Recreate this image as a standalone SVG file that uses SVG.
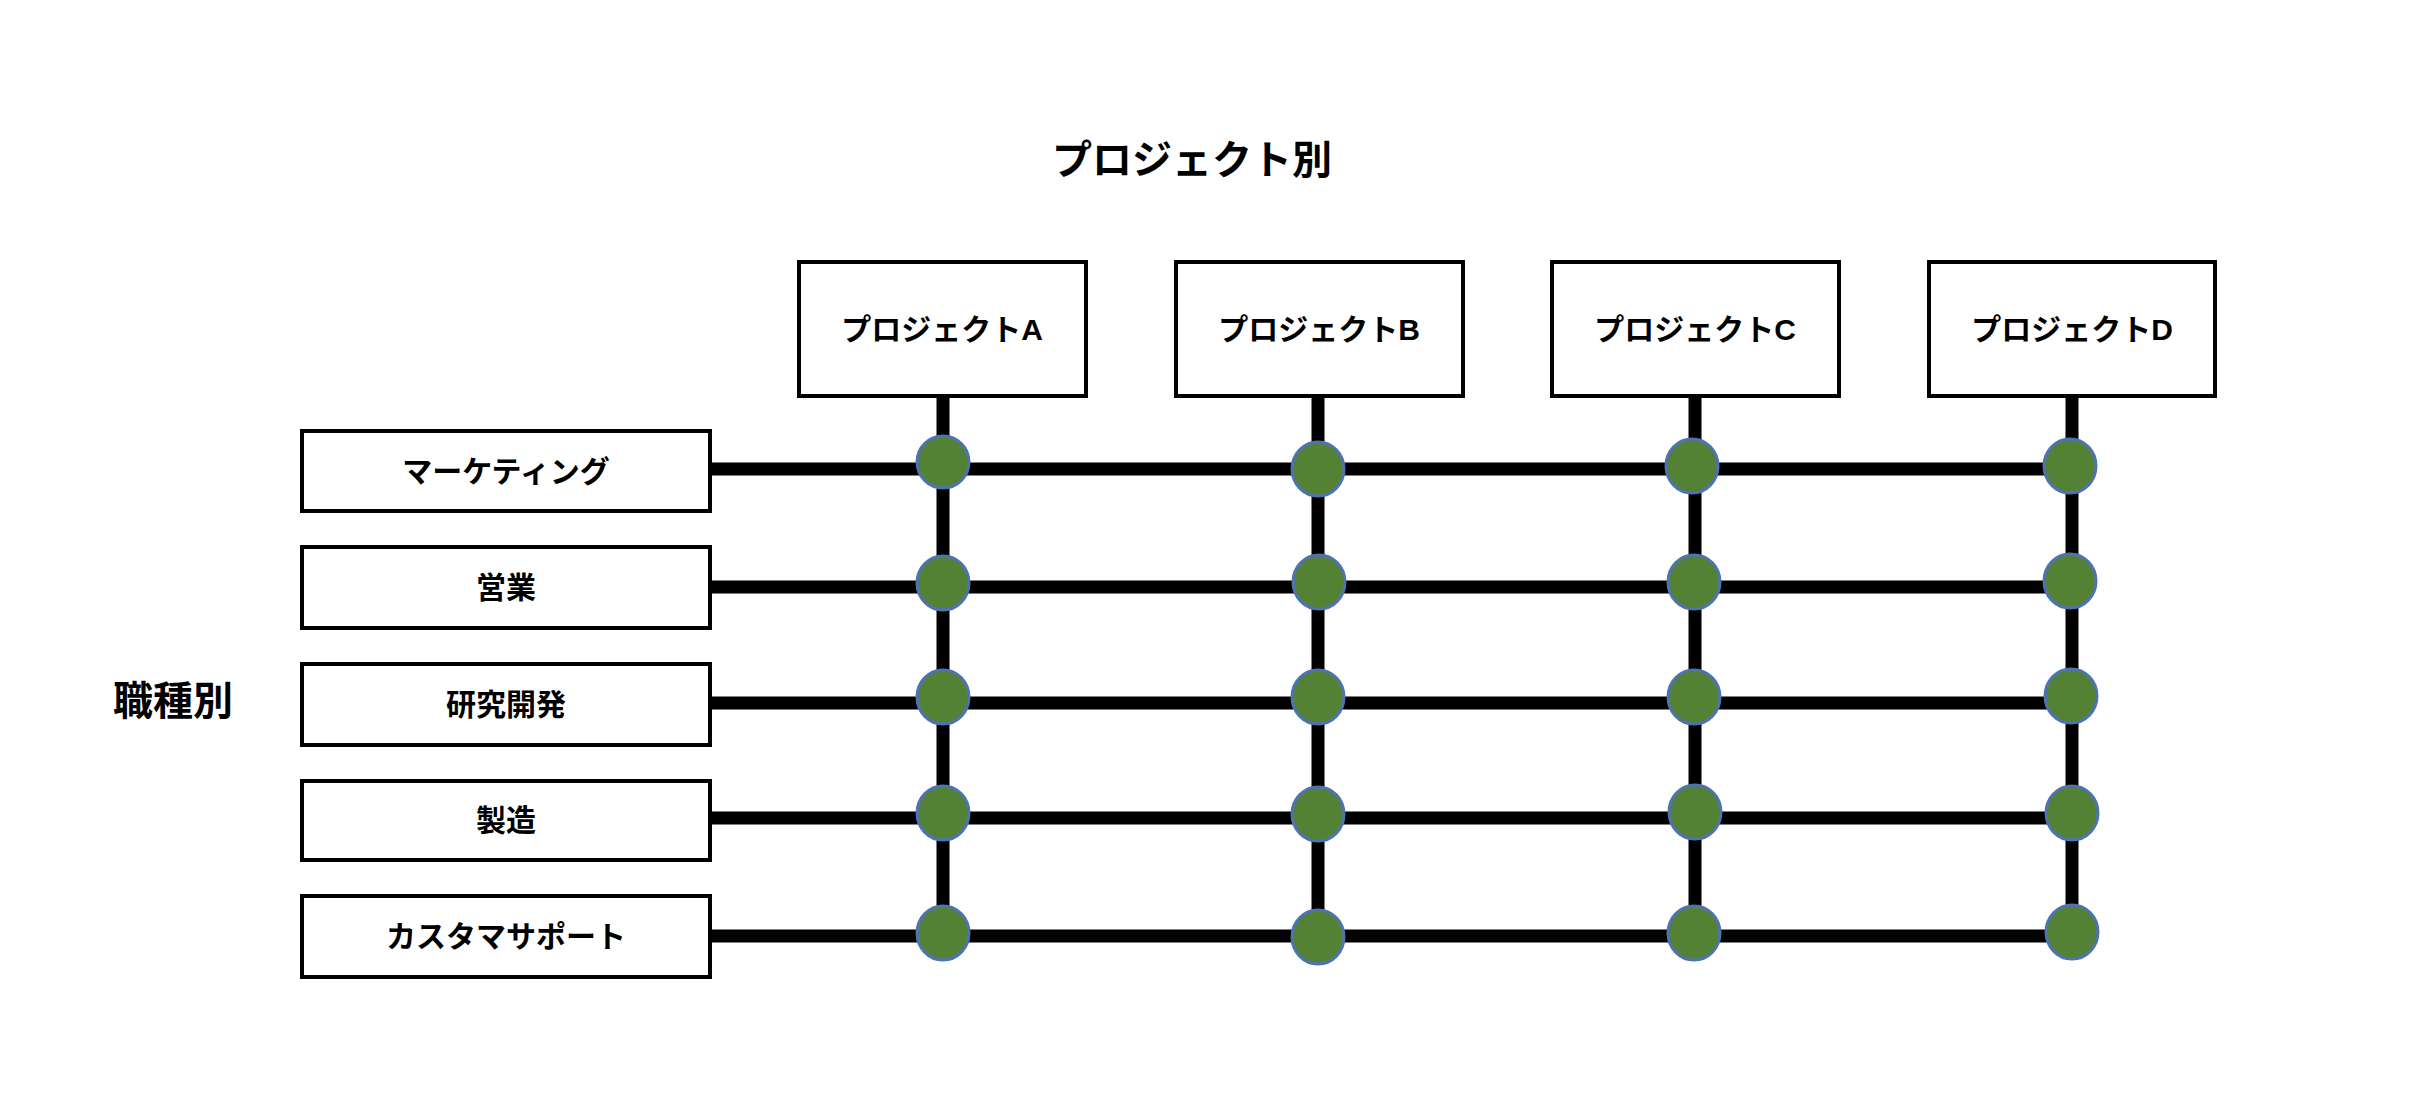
<svg xmlns="http://www.w3.org/2000/svg" width="2430" height="1103" viewBox="0 0 2430 1103">
<style>
text{font-family:"Liberation Sans","Noto Sans CJK JP",sans-serif;font-weight:bold;fill:#000;text-anchor:middle;dominant-baseline:central}
.t{font-size:40px}
.l{font-size:30px}
.box{fill:#fff;stroke:#000;stroke-width:4}
.ln{stroke:#000;stroke-width:13;fill:none}
.dot{fill:#548235;stroke:#4F72B0;stroke-width:3}
</style>
<rect width="2430" height="1103" fill="#fff"/>
<text class="t" x="1192" y="160">プロジェクト別</text>
<text class="t" x="173" y="701">職種別</text>
<g id="connectors">
<path class="ln" d="M943 396V936M1318 396V936M1695 396V936M2072 396V936"/>
<path class="ln" d="M710 469H2072M710 587H2072M710 703H2072M710 818H2072M710 936H2072"/>
</g>
<g id="projA"><rect class="box" x="799" y="262" width="287" height="134"/><text class="l" x="942" y="329">プロジェクトA</text></g>
<g id="projB"><rect class="box" x="1176" y="262" width="287" height="134"/><text class="l" x="1319" y="329">プロジェクトB</text></g>
<g id="projC"><rect class="box" x="1552" y="262" width="287" height="134"/><text class="l" x="1695" y="329">プロジェクトC</text></g>
<g id="projD"><rect class="box" x="1929" y="262" width="286" height="134"/><text class="l" x="2072" y="329">プロジェクトD</text></g>
<g id="role1"><rect class="box" x="302" y="431" width="408" height="80"/><text class="l" x="506" y="471">マーケティング</text></g>
<g id="role2"><rect class="box" x="302" y="547" width="408" height="81"/><text class="l" x="506" y="587">営業</text></g>
<g id="role3"><rect class="box" x="302" y="664" width="408" height="81"/><text class="l" x="506" y="704">研究開発</text></g>
<g id="role4"><rect class="box" x="302" y="781" width="408" height="79"/><text class="l" x="506" y="820">製造</text></g>
<g id="role5"><rect class="box" x="302" y="896" width="408" height="81"/><text class="l" x="506" y="936">カスタマサポート</text></g>
<g id="dots">
<ellipse class="dot" cx="943" cy="462" rx="26" ry="26"/><ellipse class="dot" cx="1318" cy="469" rx="26" ry="27"/><ellipse class="dot" cx="1692" cy="466" rx="26" ry="27"/><ellipse class="dot" cx="2070" cy="466" rx="26" ry="27"/>
<ellipse class="dot" cx="943" cy="583" rx="26" ry="27"/><ellipse class="dot" cx="1319" cy="582" rx="26" ry="27"/><ellipse class="dot" cx="1694" cy="582" rx="26" ry="27"/><ellipse class="dot" cx="2070" cy="581" rx="26" ry="27"/>
<ellipse class="dot" cx="943" cy="697" rx="26" ry="27"/><ellipse class="dot" cx="1318" cy="697" rx="26" ry="27"/><ellipse class="dot" cx="1694" cy="697" rx="26" ry="27"/><ellipse class="dot" cx="2071" cy="696" rx="26" ry="27"/>
<ellipse class="dot" cx="943" cy="813" rx="26" ry="27"/><ellipse class="dot" cx="1318" cy="814" rx="26" ry="27"/><ellipse class="dot" cx="1695" cy="812" rx="26" ry="27"/><ellipse class="dot" cx="2072" cy="813" rx="26" ry="27"/>
<ellipse class="dot" cx="943" cy="933" rx="26" ry="27"/><ellipse class="dot" cx="1318" cy="937" rx="26" ry="27"/><ellipse class="dot" cx="1694" cy="933" rx="26" ry="27"/><ellipse class="dot" cx="2072" cy="932" rx="26" ry="27"/>
</g>
</svg>
